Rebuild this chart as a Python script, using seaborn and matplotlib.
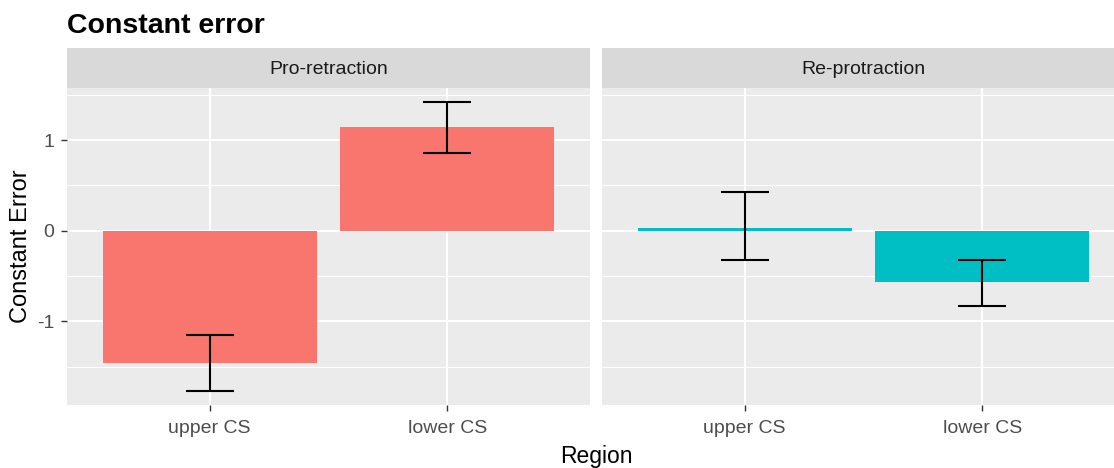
import numpy as np
import pandas as pd
import seaborn as sns
import matplotlib.pyplot as plt

panels = ['Pro-retraction', 'Re-protraction']
regions = ['upper CS', 'lower CS']
mean_pro = [-1.46, 1.145]
mean_re = [0.03, -0.565]
low_pro = [-1.775, 0.855]
high_pro = [-1.155, 1.425]
low_re = [-0.325, -0.835]
high_re = [0.43, -0.325]
fills = ['#F8766D', '#00BFC4']

df = pd.DataFrame({
    'panel': np.repeat(panels, 2),
    'region': regions * 2,
    'ce': mean_pro + mean_re,
    'low': low_pro + low_re,
    'high': high_pro + high_re,
})

sns.set_theme(style='darkgrid')
plt.rcParams['font.family'] = ['Liberation Sans', 'DejaVu Sans']

W, H = 1114, 468
fig = plt.figure(figsize=(W / 100, H / 100), dpi=100)

def fx(px):
    return px / W

def fy(py):
    return 1 - py / H

boxes = [(67, 590), (602, 1125)]
top, bot = 88, 405

for i, (p, (x0, x1)) in enumerate(zip(panels, boxes)):
    ax = fig.add_axes([fx(x0), fy(bot), fx(x1 - x0), (bot - top) / H])
    sub = df[df['panel'] == p]
    sns.barplot(data=sub, x='region', y='ce', order=regions, color=fills[i],
                width=0.9, saturation=1, errorbar=None, ax=ax)
    for b in ax.patches:
        b.set_edgecolor('none')
    ax.errorbar(x=np.arange(len(regions)), y=sub['ce'],
                yerr=[sub['ce'] - sub['low'], sub['high'] - sub['ce']],
                fmt='none', ecolor='black', elinewidth=1.5, capsize=17,
                capthick=1.5)
    ax.set_xlim(-0.6, 1.6)
    ax.set_ylim(-1.925, 1.575)
    ax.set_facecolor('#EBEBEB')
    ax.set_yticks([-1, 0, 1])
    ax.set_yticks([-1.5, -0.5, 0.5, 1.5], minor=True)
    ax.grid(True, which='major', color='white', linewidth=1.5)
    ax.grid(True, which='minor', axis='y', color='white', linewidth=0.7)
    ax.set_axisbelow(True)
    for s in ax.spines.values():
        s.set_visible(False)
    ax.set_xlabel('')
    ax.set_ylabel('')
    ax.tick_params(axis='both', which='major', length=4, width=1, color='#333333',
                   labelsize=14, labelcolor='#4D4D4D', bottom=True)
    ax.tick_params(axis='x', pad=7)
    ax.tick_params(axis='y', which='minor', length=0)
    if i == 0:
        ax.set_yticklabels(['-1', '0', '1'])
        ax.tick_params(axis='y', left=True, pad=5)
    else:
        ax.tick_params(axis='y', left=False, labelleft=False)

    strip = fig.add_axes([fx(x0), fy(top), fx(x1 - x0), (top - 48) / H])
    strip.set_facecolor('#D9D9D9')
    strip.set_xticks([])
    strip.set_yticks([])
    for s in strip.spines.values():
        s.set_visible(False)
    strip.text(0.5, 0.45, p, ha='center', va='center', fontsize=14,
               color='#1A1A1A', transform=strip.transAxes)

fig.text(fx(67), fy(26), 'Constant error', fontsize=20.5, fontweight='bold',
         ha='left', va='center', color='black')
fig.text(fx(21), fy(246), 'Constant Error', fontsize=17, rotation=90,
         ha='center', va='center', color='black')
fig.text(fx(596), fy(456), 'Region', fontsize=16.5, ha='center', va='center',
         color='black')

fig.savefig('out.png', dpi=100, facecolor='white')
